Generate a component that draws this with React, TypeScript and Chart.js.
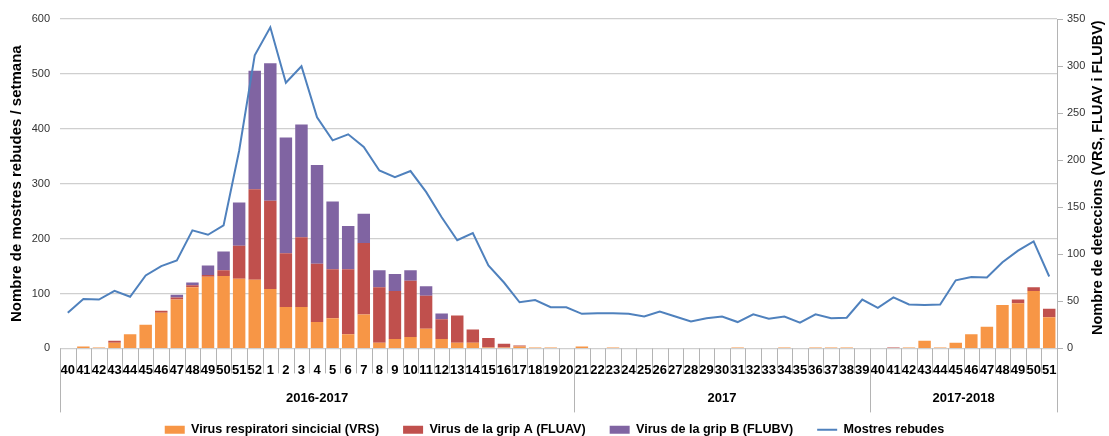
import React, { useEffect, useRef } from "react";
import { Chart, registerables } from "chart.js";

Chart.register(...registerables);

const weeks = [
  "40","41","42","43","44","45","46","47","48","49","50","51","52",
  "1","2","3","4","5","6","7","8","9","10","11","12","13","14","15","16","17","18","19","20",
  "21","22","23","24","25","26","27","28","29","30","31","32","33","34","35","36","37","38","39",
  "40","41","42","43","44","45","46","47","48","49","50","51",
];

const groupLabels = ["2016-2017", "2017", "2017-2018"];
const groupSizes = [33, 19, 12];

const vrs = [
  0, 2, 1, 6, 15, 25, 38, 52, 65, 76, 77, 74, 73,
  63, 44, 44, 28, 32, 15, 36, 6, 10, 12, 21, 10, 6, 6, 1, 1, 2, 1, 1, 0,
  2, 0, 1, 0, 0, 0, 0, 0, 0, 0, 1, 0, 0, 1, 0, 1, 1, 1, 0,
  0, 0, 1, 8, 1, 6, 15, 23, 46, 48, 61, 33,
];

const fluav = [
  0, 0, 0, 2, 0, 0, 2, 2, 2, 2, 6, 35, 96,
  94, 57, 74, 62, 52, 69, 76, 59, 51, 60, 35, 21, 29, 14, 10, 4, 1, 0, 0, 0,
  0, 0, 0, 0, 0, 0, 0, 0, 0, 0, 0, 0, 0, 0, 0, 0, 0, 0, 0,
  0, 1, 0, 0, 0, 0, 0, 0, 0, 4, 4, 9,
];

const flubv = [
  0, 0, 0, 0, 0, 0, 0, 3, 3, 10, 20, 46, 126,
  146, 123, 120, 105, 72, 46, 31, 18, 18, 11, 10, 6, 0, 0, 0, 0, 0, 0, 0, 0,
  0, 0, 0, 0, 0, 0, 0, 0, 0, 0, 0, 0, 0, 0, 0, 0, 0, 0, 0,
  0, 0, 0, 0, 0, 0, 0, 0, 0, 0, 0, 0,
];

const mostres = [
  65, 90, 89, 105, 94, 133, 150, 160, 215, 207, 224, 360, 534,
  585, 484, 514, 421, 379, 390, 367, 324, 312, 323, 285, 239, 197, 210, 151, 120, 84, 88, 75, 75,
  63, 64, 64, 63, 58, 67, 58, 49, 55, 58, 48, 62, 54, 58, 47, 62, 55, 56, 89,
  74, 93, 80, 79, 80, 124, 130, 129, 157, 178, 195, 131,
];

const leftTicks = { min: 0, max: 600, step: 100 };
const rightTicks = { min: 0, max: 350, step: 50 };

const FONT = "'Liberation Sans', Arial, sans-serif";
const GRID = "#cfcfcf";
const AXIS = "#b4b4b4";
const LEGEND_PAD = 24;

const multiLevelAxis = {
  id: "multiLevelAxis",
  afterDraw(chart: any) {
    const { ctx, chartArea } = chart;
    const x = chart.scales.x;
    const n = weeks.length;
    const half = (x.getPixelForValue(1) - x.getPixelForValue(0)) / 2;
    const top = chartArea.bottom;
    const boundary = (i: number) =>
      i < n ? x.getPixelForValue(i) - half : x.getPixelForValue(n - 1) + half;
    const groupEdges: number[] = [0];
    groupSizes.forEach((s) => groupEdges.push(groupEdges[groupEdges.length - 1] + s));
    ctx.save();
    ctx.strokeStyle = AXIS;
    ctx.lineWidth = 1;
    for (let i = 0; i <= n; i++) {
      const px = Math.round(boundary(i)) + 0.5;
      const isGroup = groupEdges.includes(i);
      ctx.beginPath();
      ctx.moveTo(px, top);
      ctx.lineTo(px, top + (isGroup ? 64 : 25));
      ctx.stroke();
    }
    ctx.fillStyle = "#000";
    ctx.font = `bold 13px ${FONT}`;
    ctx.textAlign = "center";
    ctx.textBaseline = "middle";
    for (let g = 0; g < groupLabels.length; g++) {
      const a = boundary(groupEdges[g]);
      const b = boundary(groupEdges[g + 1]);
      ctx.fillText(groupLabels[g], (a + b) / 2, top + 50);
    }
    // right axis title, reading bottom to top
    const y1 = chart.scales.y1;
    ctx.translate(y1.right - 11, (chartArea.top + chartArea.bottom) / 2 - 6);
    ctx.rotate(-Math.PI / 2);
    ctx.font = `bold 14.5px ${FONT}`;
    ctx.fillText("Nombre de deteccions (VRS, FLUAV i FLUBV)", 0, 0);
    ctx.restore();
  },
};

export default function App() {
  const ref = useRef<HTMLCanvasElement>(null);
  useEffect(() => {
    if (!ref.current) return;
    const chart = new Chart(ref.current, {
      data: {
        labels: weeks,
        datasets: [
          {
            type: "bar",
            label: "Virus respiratori sincicial (VRS)",
            data: vrs,
            backgroundColor: "#F79646",
            yAxisID: "y1",
            order: 1,
            barPercentage: 0.8,
            categoryPercentage: 1,
          },
          {
            type: "bar",
            label: "Virus de la grip A (FLUAV)",
            data: fluav,
            backgroundColor: "#C0504D",
            yAxisID: "y1",
            order: 1,
            barPercentage: 0.8,
            categoryPercentage: 1,
          },
          {
            type: "bar",
            label: "Virus de la grip B (FLUBV)",
            data: flubv,
            backgroundColor: "#8064A2",
            yAxisID: "y1",
            order: 1,
            barPercentage: 0.8,
            categoryPercentage: 1,
          },
          {
            type: "line",
            label: "Mostres rebudes",
            data: mostres,
            borderColor: "#4F81BD",
            backgroundColor: "#4F81BD",
            borderWidth: 2,
            pointRadius: 0,
            tension: 0,
            yAxisID: "y",
            order: 0,
          },
        ],
      } as any,
      options: {
        responsive: false,
        animation: false,
        layout: { padding: { top: 19, left: 0, right: 0, bottom: -10 } },
        plugins: {
          tooltip: { enabled: false },
          legend: {
            position: "bottom",
            labels: {
              usePointStyle: true,
              pointStyleWidth: 20,
              boxHeight: 8,
              padding: LEGEND_PAD,
              color: "#000",
              font: { family: FONT, size: 12.6, weight: "bold" },
              sort: (a: any, b: any) => a.datasetIndex - b.datasetIndex,
              generateLabels: (c: any) => {
                const items = (Chart.defaults.plugins.legend.labels as any).generateLabels(c);
                items.forEach((it: any) => {
                  const ds = c.data.datasets[it.datasetIndex];
                  if (ds.type === "line") {
                    it.pointStyle = "line";
                    it.lineWidth = 2;
                    it.strokeStyle = ds.borderColor;
                  } else {
                    it.pointStyle = "rect";
                    it.lineWidth = 0;
                  }
                });
                return items;
              },
            },
          },
        },
        scales: {
          x: {
            stacked: true,
            grid: { display: false },
            border: { display: false },
            ticks: {
              autoSkip: false,
              maxRotation: 0,
              minRotation: 0,
              padding: 6,
              color: "#000",
              font: { family: FONT, size: 13, weight: "bold" },
            },
            afterFit: (s: any) => {
              s.height = 75 - LEGEND_PAD;
            },
          },
          y: {
            position: "left",
            min: leftTicks.min,
            max: leftTicks.max,
            ticks: {
              stepSize: leftTicks.step,
              padding: 10,
              color: "#333",
              font: { family: FONT, size: 11 },
            },
            grid: { color: GRID, lineWidth: 1.2, drawTicks: false },
            border: { display: false },
            title: {
              display: true,
              text: "Nombre de mostres rebudes / setmana",
              color: "#000",
              padding: { top: 8, bottom: 0 },
              font: { family: FONT, size: 15, weight: "bold" },
            },
            afterFit: (s: any) => {
              s.width = 60;
            },
          },
          y1: {
            position: "right",
            stacked: true,
            min: rightTicks.min,
            max: rightTicks.max,
            ticks: {
              stepSize: rightTicks.step,
              padding: 4,
              color: "#333",
              font: { family: FONT, size: 11 },
            },
            grid: { drawOnChartArea: false, drawTicks: true, tickLength: 6, color: AXIS },
            border: { display: true, color: AXIS },
            afterFit: (s: any) => {
              s.width = 52;
            },
          },
        },
      } as any,
      plugins: [multiLevelAxis],
    });
    return () => chart.destroy();
  }, []);
  return (
    <div style={{ position: "fixed", left: 0, top: 0, width: 1109, height: 436, background: "#fff" }}>
      <canvas ref={ref} width={1109} height={436} style={{ display: "block" }} />
    </div>
  );
}
